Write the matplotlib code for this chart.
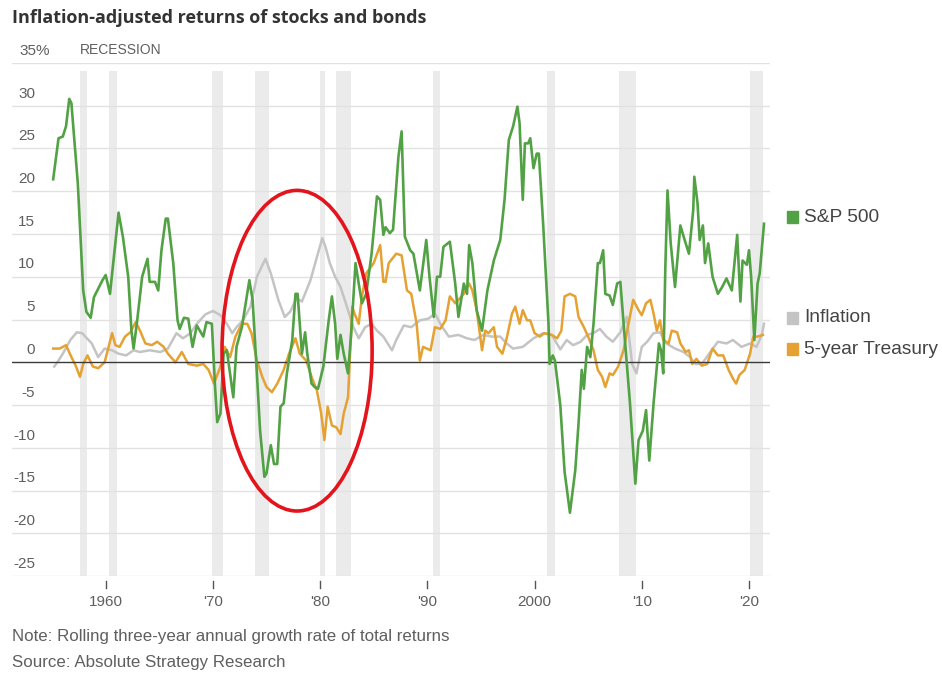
import matplotlib.pyplot as plt
from matplotlib.patches import Ellipse, Rectangle

# Data (year, % rolling three-year annual growth)
sp_years = [1955.1, 1955.6, 1956.0, 1956.3, 1956.6, 1956.8, 1957.4, 1957.9, 1958.2, 1958.6,
            1958.9, 1959.3, 1959.7, 1960.0, 1960.4, 1961.2, 1961.6, 1962.1, 1962.4, 1962.6,
            1962.9, 1963.4, 1963.9, 1964.1, 1964.6, 1964.9, 1965.2, 1965.6, 1965.8, 1966.3,
            1966.7, 1966.9, 1967.3, 1967.7, 1968.1, 1968.5, 1969.1, 1969.4, 1969.9, 1970.2,
            1970.4, 1970.7, 1971.0, 1971.3, 1971.9, 1972.2, 1972.7, 1973.4, 1973.7, 1974.1,
            1974.4, 1974.8, 1975.0, 1975.4, 1975.7, 1976.0, 1976.3, 1976.6, 1976.9, 1977.4,
            1977.7, 1977.9, 1978.3, 1978.6, 1978.8, 1979.2, 1979.5, 1979.8, 1980.3, 1980.8,
            1981.1, 1981.4, 1981.6, 1981.9, 1982.2, 1982.6, 1982.9, 1983.3, 1983.6, 1983.9,
            1984.3, 1984.8, 1985.3, 1985.6, 1985.9, 1986.1, 1986.5, 1986.8, 1987.3, 1987.6,
            1987.9, 1988.4, 1988.7, 1989.3, 1989.9, 1990.2, 1990.6, 1990.9, 1991.2, 1991.5,
            1992.1, 1992.6, 1992.9, 1993.4, 1993.7, 1993.9, 1994.2, 1994.6, 1995.1, 1995.6,
            1996.2, 1996.8, 1997.2, 1997.6, 1998.0, 1998.4, 1998.6, 1998.9, 1999.1, 1999.4,
            1999.6, 1999.9, 2000.2, 2000.4, 2000.8, 2001.3, 2001.4, 2001.7, 2001.9, 2002.4,
            2002.8, 2003.3, 2003.8, 2004.1, 2004.4, 2004.6, 2004.9, 2005.2, 2005.5, 2005.9,
            2006.1, 2006.4, 2006.6, 2007.0, 2007.3, 2007.7, 2008.0, 2008.4, 2008.9, 2009.4,
            2009.7, 2010.1, 2010.4, 2010.7, 2011.1, 2011.6, 2011.8, 2012.0, 2012.2, 2012.4,
            2012.7, 2013.1, 2013.4, 2013.6, 2014.0, 2014.4, 2014.8, 2014.9, 2015.2, 2015.4,
            2015.7, 2015.9, 2016.2, 2016.6, 2017.1, 2017.5, 2017.9, 2018.4, 2018.9, 2019.2,
            2019.4, 2019.8, 2020.0, 2020.2, 2020.5, 2020.8, 2021.0, 2021.4]
sp_values = [21.4, 26.2, 26.4, 27.6, 30.8, 30.3, 20.9, 8.4, 5.9, 5.2,
             7.6, 8.6, 9.6, 10.2, 8.0, 17.5, 14.7, 10.0, 3.7, 1.6,
             4.5, 10.0, 12.1, 9.4, 9.4, 8.4, 13.1, 16.8, 16.8, 11.6,
             4.9, 3.9, 5.2, 5.1, 1.8, 4.3, 3.0, 4.7, 4.5, -2.9,
             -7.0, -6.0, 1.0, 1.4, -4.1, 1.8, 4.1, 9.6, 7.3, -1.3,
             -8.0, -13.4, -13.0, -9.7, -11.9, -11.9, -5.2, -4.8, -1.3, 2.6,
             8.0, 8.0, 1.0, 3.5, 1.0, -2.5, -2.9, -3.1, -0.5, 4.9,
             7.7, 4.5, 0.4, 3.2, 1.0, -1.3, 3.4, 11.6, 9.2, 6.9,
             8.0, 12.7, 19.4, 19.0, 14.9, 15.8, 15.1, 15.5, 24.0, 27.0,
             14.7, 13.1, 12.7, 8.4, 14.3, 10.0, 5.3, 10.0, 10.0, 13.5,
             14.1, 9.2, 5.3, 9.2, 8.0, 13.7, 11.6, 6.1, 3.7, 8.4,
             11.9, 14.3, 19.0, 26.0, 27.6, 29.9, 28.0, 19.0, 25.6, 25.6,
             26.2, 22.7, 24.4, 24.4, 16.2, 4.5, -0.2, 0.8, 0.2, -5.0,
             -12.8, -17.6, -12.6, -7.2, -0.9, -3.1, 1.8, 0.6, 4.5, 11.6,
             11.6, 13.1, 8.0, 7.8, 6.7, 9.2, 9.4, 3.0, -4.8, -14.2,
             -9.1, -8.0, -5.6, -11.5, -4.8, 2.2, 1.4, -1.3, 11.2, 20.1,
             13.9, 8.8, 13.1, 16.0, 14.3, 12.7, 17.8, 21.7, 18.6, 14.3,
             16.0, 11.6, 13.9, 10.0, 8.0, 8.8, 9.8, 8.4, 14.9, 7.1,
             11.9, 11.4, 13.1, 10.0, 2.6, 9.2, 10.4, 16.2]

infl_years = [1955.2, 1955.6, 1956.0, 1956.7, 1957.3, 1957.8, 1958.1, 1958.7, 1959.3, 1959.9,
              1960.6, 1961.2, 1961.9, 1962.6, 1963.2, 1964.1, 1965.1, 1965.8, 1966.6, 1967.2,
              1967.9, 1968.5, 1969.3, 1970.0, 1970.7, 1971.3, 1971.8, 1972.2, 1972.8, 1973.5,
              1974.1, 1974.9, 1975.4, 1976.1, 1976.7, 1977.2, 1977.8, 1978.3, 1979.1, 1979.7,
              1980.2, 1980.5, 1980.9, 1981.4, 1981.9, 1982.5, 1983.1, 1983.6, 1984.2, 1984.8,
              1985.3, 1985.9, 1986.7, 1987.1, 1987.8, 1988.5, 1989.3, 1990.1, 1990.7, 1991.3,
              1992.0, 1992.9, 1993.7, 1994.4, 1995.2, 1996.0, 1996.8, 1997.4, 1998.0, 1998.9,
              1999.9, 2000.8, 2001.6, 2002.4, 2003.0, 2003.6, 2004.3, 2004.9, 2005.5, 2006.1,
              2006.7, 2007.3, 2008.0, 2008.6, 2009.1, 2009.5, 2010.0, 2010.5, 2011.1, 2011.7,
              2012.3, 2013.1, 2013.9, 2014.5, 2015.0, 2015.6, 2016.4, 2017.1, 2017.9, 2018.5,
              2019.3, 2020.1, 2020.7, 2021.2, 2021.4]
infl_values = [-0.5, 0.2, 1.0, 2.6, 3.5, 3.4, 3.0, 2.2, 0.6, 1.6,
               1.4, 1.0, 0.8, 1.4, 1.2, 1.4, 1.2, 1.6, 3.4, 2.8,
               3.4, 4.5, 5.6, 6.0, 5.5, 4.5, 3.4, 4.1, 4.9, 6.5,
               10.0, 12.1, 10.4, 7.3, 5.3, 5.9, 7.5, 7.1, 9.6, 12.3,
               14.5, 13.5, 11.6, 10.0, 8.8, 6.5, 4.1, 2.8, 4.1, 4.5,
               3.7, 3.0, 1.4, 2.6, 4.3, 4.1, 4.9, 5.1, 5.7, 4.3,
               3.0, 3.2, 2.8, 2.6, 3.2, 3.0, 3.0, 2.2, 1.6, 1.8,
               2.8, 3.4, 3.2, 1.5, 2.6, 2.0, 2.4, 3.2, 3.4, 3.9,
               3.0, 2.4, 3.5, 5.3, -0.2, -1.3, 1.8, 2.4, 3.4, 3.5,
               2.2, 1.6, 1.2, 0.6, -0.2, -0.2, 1.2, 2.4, 2.2, 2.6,
               1.8, 2.2, 1.8, 3.2, 4.5]

tsy_years = [1955.1, 1955.7, 1956.3, 1956.8, 1957.2, 1957.6, 1957.9, 1958.3, 1958.8, 1959.3,
             1959.9, 1960.6, 1960.9, 1961.3, 1961.8, 1962.3, 1962.8, 1963.2, 1963.7, 1964.3,
             1964.8, 1965.4, 1965.8, 1966.5, 1967.1, 1967.7, 1968.5, 1969.1, 1969.6, 1970.1,
             1970.7, 1971.1, 1971.6, 1972.1, 1972.7, 1973.2, 1973.6, 1974.1, 1974.6, 1975.0,
             1975.5, 1976.0, 1976.6, 1977.1, 1977.7, 1978.1, 1978.7, 1979.2, 1979.7, 1980.1,
             1980.4, 1980.7, 1981.1, 1981.5, 1981.9, 1982.2, 1982.6, 1983.0, 1983.2, 1983.6,
             1983.9, 1984.3, 1985.0, 1985.6, 1985.9, 1986.1, 1986.4, 1987.1, 1987.6, 1988.1,
             1988.5, 1989.0, 1989.3, 1989.6, 1990.3, 1990.7, 1991.2, 1991.7, 1992.1, 1992.6,
             1992.9, 1993.4, 1993.9, 1994.2, 1994.6, 1995.1, 1995.4, 1995.7, 1996.2, 1996.5,
             1997.0, 1997.4, 1997.9, 1998.2, 1998.6, 1998.9, 1999.3, 1999.6, 2000.0, 2000.5,
             2000.9, 2001.6, 2002.1, 2002.5, 2002.8, 2003.3, 2003.8, 2004.1, 2004.6, 2005.0,
             2005.5, 2005.9, 2006.3, 2006.6, 2007.0, 2007.3, 2007.8, 2008.3, 2008.7, 2009.2,
             2009.7, 2010.0, 2010.4, 2010.8, 2011.1, 2011.4, 2011.7, 2012.0, 2012.5, 2012.8,
             2013.3, 2013.6, 2014.1, 2014.4, 2014.7, 2015.1, 2015.6, 2016.1, 2016.6, 2017.1,
             2017.6, 2018.1, 2018.5, 2018.8, 2019.1, 2019.6, 2020.1, 2020.4, 2020.8, 2021.3]
tsy_values = [1.6, 1.6, 2.0, 0.6, -0.4, -1.7, -0.2, 0.8, -0.5, -0.7,
              0.0, 3.4, 2.0, 1.8, 3.0, 3.5, 4.7, 3.7, 2.2, 2.0,
              2.4, 1.8, 1.0, 0.0, 1.2, -0.2, -0.4, -0.2, -0.9, -2.5,
              -0.5, 1.8, 0.6, 3.0, 4.5, 4.5, 3.4, 0.2, -1.7, -2.9,
              -3.5, -2.5, -0.9, 1.0, 2.8, 1.0, 0.2, -1.7, -3.3, -6.0,
              -9.1, -5.2, -7.4, -7.6, -8.4, -6.0, -4.1, 6.5, 5.7, 4.5,
              7.7, 10.4, 11.6, 13.7, 9.4, 9.4, 11.6, 12.7, 12.5, 8.4,
              8.0, 4.5, 0.2, 1.8, 1.4, 4.1, 3.9, 4.9, 7.7, 6.9,
              7.3, 8.0, 9.2, 8.4, 6.1, 1.4, 3.7, 3.4, 4.1, 1.8,
              1.0, 2.8, 5.7, 6.5, 4.5, 6.1, 4.9, 4.9, 3.4, 3.0,
              3.4, 3.2, 2.8, 3.7, 7.7, 8.0, 7.7, 5.3, 4.1, 3.0,
              1.4, -0.9, -1.7, -2.9, -1.3, -1.5, -0.5, 1.4, 4.1, 7.3,
              6.1, 5.5, 6.9, 7.3, 5.7, 3.7, 4.9, 2.6, 2.2, 3.7,
              3.5, 2.2, 1.2, 1.4, -0.2, 0.4, -0.4, -0.2, 1.6, 0.8,
              0.8, -0.9, -1.9, -2.5, -1.5, -0.9, 1.0, 3.0, 3.0, 3.2]

recession_starts = [1957.6, 1960.3, 1969.9, 1973.9, 1980.0, 1981.5, 1990.5, 2001.2, 2007.9, 2020.1]
recession_ends = [1958.3, 1961.1, 1970.9, 1975.2, 1980.5, 1982.9, 1991.2, 2001.9, 2009.5, 2021.3]

tick_years = [1960, 1970, 1980, 1990, 2000, 2010, 2020]
tick_labels = ["1960", "'70", "'80", "'90", "2000", "'10", "'20"]
y_ticks = [35, 30, 25, 20, 15, 10, 5, 0, -5, -10, -15, -20, -25]

GREEN = "#52a245"
GREY = "#c4c4c4"
ORANGE = "#e5a132"
TEXT = "#5f5f5f"

W, H = 942, 673
plt.rcParams["font.family"] = ["Liberation Sans", "DejaVu Sans"]


def fx(px):
    return px / W


def fy(py):
    return 1 - py / H


fig = plt.figure(figsize=(W / 100, H / 100), dpi=100)
ax = fig.add_axes([fx(12), fy(576), fx(770) - fx(12), fy(63) - fy(576)])

for start, end in zip(recession_starts, recession_ends):
    ax.axvspan(start, end, ymin=0, ymax=0.985, color="#ebebeb", lw=0, zorder=0)

for v in y_ticks:
    if v == 0:
        continue
    ax.axhline(v, color="#e2e2e2", lw=1.0, zorder=1)
ax.axhline(0, color="#3a3a3a", lw=1.0, zorder=4)

ax.plot(infl_years, infl_values, color=GREY, lw=1.8, zorder=2)
ax.plot(tsy_years, tsy_values, color=ORANGE, lw=1.8, zorder=3)
ax.plot(sp_years, sp_values, color=GREEN, lw=1.9, zorder=5)

circle = Ellipse((1977.85, 1.35), 14.0, 37.5, fill=False, ec="#e3141b", lw=2.6, zorder=6)
ax.add_patch(circle)

ax.set_xlim(1951.26, 2021.96)
ax.set_ylim(-25, 35)
ax.set_xticks([])
ax.set_yticks([])
for spine in ax.spines.values():
    spine.set_visible(False)

# y labels sit just above their gridlines, inside the plot
for v in y_ticks:
    label = "35%" if v == 35 else str(v)
    ha = "left" if v == 35 else "right"
    x = fx(19) if v == 35 else fx(35)
    y = fy(362 - v * 8.55 - 5)
    fig.text(x, y, label, ha=ha, va="bottom", fontsize=11, color=TEXT)
fig.text(fx(80), fy(62 - 5), "RECESSION", ha="left", va="bottom", fontsize=10, color=TEXT)

# x ticks below the axis
for yr, lab in zip(tick_years, tick_labels):
    ax.plot([yr, yr], [-25.6, -26.4], color="#555555", lw=1.0, clip_on=False)
    ax.text(yr, -27.2, lab, ha="center", va="top", fontsize=11, color=TEXT)

fig.text(fx(12), fy(18), "Inflation-adjusted returns of stocks and bonds",
         ha="left", va="center", fontsize=13, fontweight="bold", color="#333333",
         family=["Open Sans", "DejaVu Sans"])

# legend labels
legend_items = [("S&P 500", GREEN, 217), ("Inflation", GREY, 318), ("5-year Treasury", ORANGE, 349)]
for name, col, py in legend_items:
    fig.patches.append(Rectangle((fx(787), fy(py + 6)), fx(11), fy(0) - fy(12),
                                 transform=fig.transFigure, color=col, figure=fig))
    fig.text(fx(804), fy(py), name, ha="left", va="center", fontsize=13.8, color="#444444")

fig.text(fx(12), fy(637), "Note: Rolling three-year annual growth rate of total returns",
         ha="left", va="center", fontsize=12.2, color=TEXT)
fig.text(fx(12), fy(662), "Source: Absolute Strategy Research",
         ha="left", va="center", fontsize=12.2, color=TEXT)

fig.savefig("out.png", dpi=100)
plt.close(fig)
